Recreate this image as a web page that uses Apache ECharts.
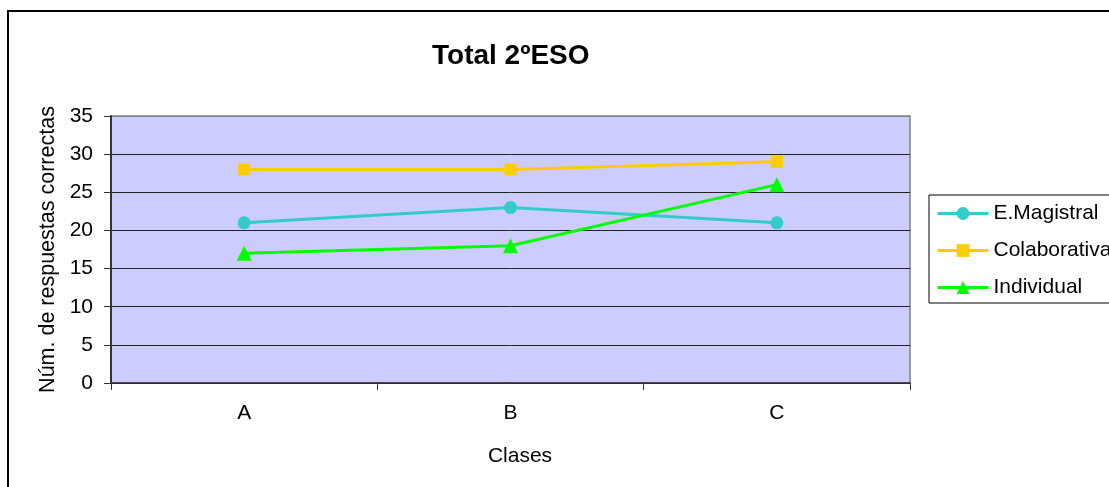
<!DOCTYPE html>
<html>
<head>
<meta charset="utf-8">
<script src="https://cdn.jsdelivr.net/npm/echarts@6/dist/echarts.min.js"></script>
<style>
  html, body { margin: 0; padding: 0; background: #ffffff; }
  #chart { width: 1109px; height: 487px; }
</style>
</head>
<body>
<div id="chart"></div>
<script>
// Categories (classes) and correct-answer counts per teaching method
const categories = ['A', 'B', 'C'];
const magistral = [21, 23, 21];
const colaborativa = [28, 28, 29];
const individual = [17, 18, 26];

const FONT = '"Liberation Sans", Arial, sans-serif';

const chart = echarts.init(document.getElementById('chart'), null, { renderer: 'canvas' });

function lineSeries(name, data, color, symbol, size) {
  return {
    name: name,
    type: 'line',
    data: data,
    symbol: symbol,
    symbolSize: size,
    showAllSymbol: true,
    lineStyle: { color: color, width: 3 },
    itemStyle: { color: color },
    emphasis: { disabled: true },
    z: 3
  };
}

chart.setOption({
  animation: false,
  backgroundColor: '#ffffff',
  textStyle: { fontFamily: FONT },
  title: {
    text: 'Total 2ºESO',
    left: 432,
    top: 42,
    padding: 0,
    textStyle: { fontFamily: FONT, fontSize: 28, fontWeight: 'bold', color: '#000' }
  },
  legend: {
    orient: 'vertical',
    left: 929,
    top: 195,
    padding: [8, 10, 5, 7],
    itemWidth: 51,
    itemHeight: 16,
    itemGap: 16,
    borderColor: '#000',
    borderWidth: 1,
    backgroundColor: '#ffffff',
    lineStyle: { width: 3 },
    textStyle: { fontFamily: FONT, fontSize: 21, color: '#000', lineHeight: 21 },
    data: ['E.Magistral', 'Colaborativa', 'Individual']
  },
  grid: {
    left: 111,
    top: 116,
    width: 799,
    height: 267,
    show: true,
    backgroundColor: '#CCCCFF',
    borderColor: '#808080',
    borderWidth: 1.5
  },
  xAxis: {
    type: 'category',
    data: categories,
    boundaryGap: true,
    name: 'Clases',
    nameLocation: 'middle',
    nameGap: 63,
    nameTextStyle: { fontFamily: FONT, fontSize: 21, color: '#000', padding: [0, 0, 0, 19] },
    axisLine: { show: true, lineStyle: { color: '#333', width: 1.5 } },
    axisTick: { show: true, length: 7, inside: false, alignWithLabel: false, lineStyle: { color: '#333', width: 1 } },
    axisLabel: { margin: 20, fontFamily: FONT, fontSize: 21, color: '#000' },
    splitLine: { show: false }
  },
  yAxis: {
    type: 'value',
    min: 0,
    max: 35,
    interval: 5,
    name: 'Núm. de respuestas correctas',
    nameLocation: 'middle',
    nameGap: 52,
    nameTextStyle: { fontFamily: FONT, fontSize: 21.5, color: '#000' },
    axisLine: { show: true, lineStyle: { color: '#333', width: 2 } },
    axisTick: { show: true, length: 7, inside: false, lineStyle: { color: '#333', width: 1 } },
    axisLabel: { margin: 18, fontFamily: FONT, fontSize: 21, color: '#000' },
    splitLine: {
      show: true,
      lineStyle: { color: ['#222', '#222', '#222', '#222', '#222', '#222', '#222', '#808080'], width: 1 }
    }
  },
  graphic: [
    {
      type: 'rect',
      silent: true,
      z: 100,
      shape: { x: 8, y: 11, width: 1120, height: 500 },
      style: { fill: 'none', stroke: '#000', lineWidth: 2 }
    }
  ],
  series: [
    lineSeries('E.Magistral', magistral, '#33CCCC', 'circle', 13),
    lineSeries('Colaborativa', colaborativa, '#FFCC00', 'rect', 12),
    lineSeries('Individual', individual, '#00FF00', 'triangle', 15)
  ]
});
</script>
</body>
</html>
